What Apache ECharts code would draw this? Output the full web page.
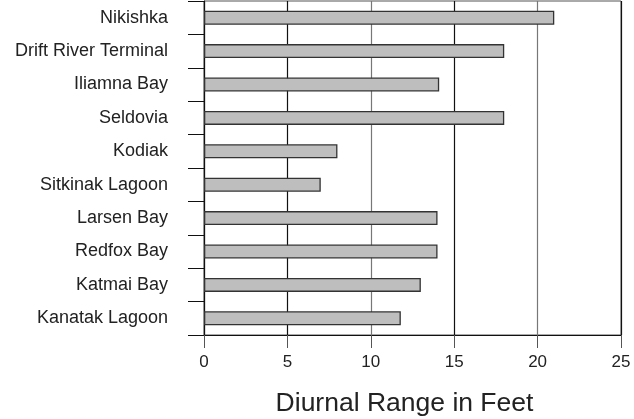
<!DOCTYPE html>
<html>
<head>
<meta charset="utf-8">
<script src="https://cdn.jsdelivr.net/npm/echarts@6/dist/echarts.min.js"></script>
<style>
html,body{margin:0;padding:0;background:#fff;}
#chart{width:634px;height:419px;}
</style>
</head>
<body>
<div id="chart"></div>
<script>
var categories = ['Nikishka','Drift River Terminal','Iliamna Bay','Seldovia','Kodiak','Sitkinak Lagoon','Larsen Bay','Redfox Bay','Katmai Bay','Kanatak Lagoon'];
var diurnalRange = [21, 18, 14.1, 18, 8, 7, 14, 14, 13, 11.8];
var xTicks = [0, 5, 10, 15, 20, 25];
var xTitle = 'Diurnal Range in Feet';

var font = '"Liberation Sans", Arial, Helvetica, sans-serif';
var chart = echarts.init(document.getElementById('chart'), null, {renderer:'canvas'});
chart.setOption({
  animation: false,
  backgroundColor: '#fff',
  grid: {left: 204, right: 13, top: 1, bottom: 84, containLabel: false, outerBoundsMode: 'none',
         show: true, borderColor: '#555', borderWidth: 1, backgroundColor: 'transparent'},
  xAxis: {
    type: 'value', min: xTicks[0], max: xTicks[xTicks.length-1], interval: 5,
    name: xTitle, nameLocation: 'middle', nameGap: 55,
    nameTextStyle: {fontFamily: font, fontSize: 26.5, color: '#222', padding: [0, 16, 0, 0]},
    axisLine: {show: true, lineStyle: {color: '#111', width: 1.2}},
    axisTick: {show: true, length: 13, lineStyle: {color: '#555', width: 1}},
    axisLabel: {fontFamily: font, fontSize: 17, color: '#222', margin: 19},
    splitLine: {show: true, lineStyle: {color: ['#777', '#111'], width: 1.2}}
  },
  yAxis: {
    type: 'category', data: categories, inverse: true,
    axisLine: {show: true, lineStyle: {color: '#111', width: 1.2}},
    axisTick: {show: true, length: 16, lineStyle: {color: '#111', width: 1}},
    axisLabel: {fontFamily: font, fontSize: 18, color: '#222', margin: 36},
    splitLine: {show: false}
  },
  series: [{
    type: 'bar', data: diurnalRange, barWidth: '42%',
    itemStyle: {color: '#bebebe', borderColor: '#333', borderWidth: 1.3},
    silent: true
  }]
});
</script>
</body>
</html>
